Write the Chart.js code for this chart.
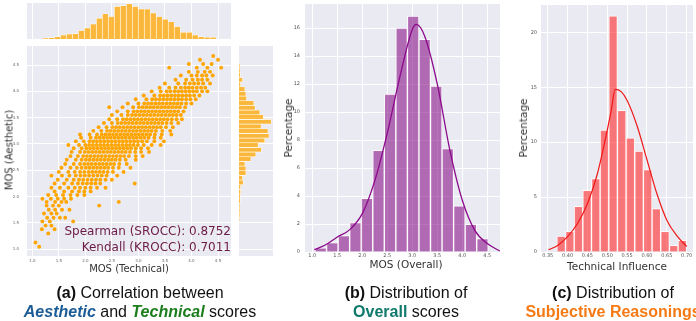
<!DOCTYPE html>
<html><head><meta charset="utf-8">
<script src="https://cdn.jsdelivr.net/npm/chart.js@4.4.1/dist/chart.umd.min.js"></script>
<style>
html,body{margin:0;padding:0;background:#fff;width:696px;height:321px;overflow:hidden;position:relative;}
canvas{position:absolute;}
.t{position:absolute;white-space:nowrap;font-family:"DejaVu Sans",sans-serif;color:#333;transform:translate(-50%,-50%);}
.r{transform:translate(-50%,-50%) rotate(-90deg);}
.cap{position:absolute;white-space:nowrap;font-family:"Liberation Sans",Arial,sans-serif;font-size:16px;line-height:18px;color:#111;transform:translateX(-50%);}
.ann{position:absolute;white-space:nowrap;font-family:"DejaVu Sans",sans-serif;font-size:12px;color:#6B1A45;transform:translate(-100%,-50%);}
</style></head><body>
<canvas id="cTop" width="236" height="42" style="left:0;top:0"></canvas>
<canvas id="cMain" width="236" height="228" style="left:0;top:40px"></canvas>
<canvas id="cRight" width="40" height="222" style="left:236px;top:40px"></canvas>
<canvas id="cB" width="236" height="262" style="left:270px;top:0"></canvas>
<canvas id="cC" width="196" height="262" style="left:500px;top:0"></canvas>

<div class="ann" style="left:231px;top:231px">Spearman (SROCC): 0.8752</div>
<div class="ann" style="left:231px;top:247px">Kendall (KROCC): 0.7011</div>

<div class="t r" style="left:9px;top:150px;font-size:10px">MOS (Aesthetic)</div>
<div class="t" style="left:129px;top:268px;font-size:10px">MOS (Technical)</div>
<div class="t r" style="left:288px;top:128px;font-size:10.5px">Percentage</div>
<div class="t" style="left:406px;top:264px;font-size:10.5px">MOS (Overall)</div>
<div class="t r" style="left:523px;top:128px;font-size:10.5px">Percentage</div>
<div class="t" style="left:617px;top:266px;font-size:10.5px">Technical Influence</div>

<div class="cap" style="left:140px;top:284px"><b>(a)</b> Correlation between</div>
<div class="cap" style="left:140px;top:302.5px"><b><i style="color:#1B5C96">Aesthetic</i></b> and <b><i style="color:#1C7D1C">Technical</i></b> scores</div>
<div class="cap" style="left:406px;top:284px"><b>(b)</b> Distribution of</div>
<div class="cap" style="left:406px;top:302.5px"><b style="color:#0F7A6C">Overall</b> scores</div>
<div class="cap" style="left:613px;top:284px"><b>(c)</b> Distribution of</div>
<div class="cap" style="left:613px;top:302.5px"><b style="color:#F57A14">Subjective Reasonings</b></div>

<script>
// ---------- (a) scatter: rows of MOS (Aesthetic) with MOS (Technical) values ----------
const scatterAes = [1.05,1.13,1.3,1.38,1.45,1.53,1.6,1.68,1.75,1.83,1.9,1.96,2.03,2.1,2.17,2.25,2.32,2.4,2.47,2.55,2.62,2.7,2.77,2.85,2.92,2.98,3.05,3.12,3.18,3.25,3.32,3.4,3.47,3.55,3.62,3.7,3.77,3.85,3.92,4.0,4.07,4.15,4.22,4.3,4.37,4.45,4.52,4.6,4.67];
const scatterTech = [
 [1.13],[1.06],[1.3],[1.18,1.42],[1.25,1.36],[1.19,1.33,1.77],[1.28,1.4,1.52,1.62],[1.22,1.36,1.46],
 [1.31,1.43,1.56,1.7],[1.27,1.39,1.5,2.26],[1.27,1.43,1.55,1.64,2.63],[1.19,1.35,1.48,1.6,1.73],
 [1.3,1.45,1.58,1.72,1.85,1.98],[1.42,1.6,1.75,1.88,1.98,2.1],
 [1.36,1.52,1.68,1.8,1.9,2.0,2.1,2.22,2.38],[1.42,1.6,1.75,1.86,1.95,2.03,2.11,2.19,2.28,2.93],
 [1.48,1.65,1.78,1.88,1.96,2.04,2.12,2.2,2.28,2.38,2.5],
 [1.36,1.56,1.7,1.82,1.91,1.99,2.07,2.15,2.23,2.31,2.4,2.6],
 [1.5,1.68,1.8,1.9,1.98,2.06,2.13,2.2,2.27,2.34,2.42,2.52,2.72],
 [1.55,1.72,1.84,1.93,2.01,2.08,2.15,2.22,2.29,2.36,2.43,2.52,2.63,2.85],
 [1.62,1.78,1.9,1.98,2.05,2.12,2.19,2.26,2.33,2.4,2.47,2.54,2.64,2.78],
 [1.65,1.82,1.93,2.01,2.08,2.15,2.22,2.29,2.36,2.43,2.5,2.57,2.65,2.76,2.95],
 [1.72,1.86,1.96,2.03,2.1,2.17,2.24,2.31,2.38,2.45,2.52,2.59,2.66,2.73,2.82,2.95,3.08],
 [1.74,1.9,1.99,2.06,2.13,2.2,2.27,2.34,2.41,2.48,2.55,2.62,2.69,2.76,2.84,2.94,3.05,3.2],
 [1.78,1.93,2.02,2.09,2.16,2.23,2.3,2.37,2.44,2.51,2.58,2.65,2.72,2.79,2.86,2.95,3.05,3.18],
 [1.68,1.88,2.0,2.07,2.14,2.21,2.28,2.35,2.42,2.49,2.56,2.63,2.7,2.77,2.84,2.91,2.99,3.1,3.25,3.42],
 [1.82,1.97,2.08,2.15,2.22,2.29,2.36,2.43,2.5,2.57,2.64,2.71,2.78,2.85,2.92,2.99,3.07,3.16,3.3,3.48],
 [1.92,2.1,2.2,2.27,2.34,2.41,2.48,2.55,2.62,2.69,2.76,2.83,2.9,2.97,3.04,3.11,3.19,3.3,3.42],
 [1.9,2.08,2.22,2.31,2.38,2.45,2.52,2.59,2.66,2.73,2.8,2.87,2.94,3.01,3.08,3.15,3.22,3.31,3.44,3.62],
 [2.15,2.3,2.41,2.48,2.55,2.62,2.69,2.76,2.83,2.9,2.97,3.04,3.11,3.18,3.25,3.33,3.45,3.6],
 [2.25,2.4,2.51,2.58,2.65,2.72,2.79,2.86,2.93,3.0,3.07,3.14,3.21,3.28,3.35,3.42,3.52,3.65],
 [2.35,2.5,2.61,2.68,2.75,2.82,2.89,2.96,3.03,3.1,3.17,3.24,3.31,3.38,3.45,3.53,3.62,3.75],
 [2.45,2.6,2.71,2.78,2.85,2.92,2.99,3.06,3.13,3.2,3.27,3.34,3.41,3.48,3.55,3.63,3.72,3.82],
 [2.5,2.68,2.8,2.88,2.95,3.02,3.09,3.16,3.23,3.3,3.37,3.44,3.51,3.58,3.65,3.72,3.8],
 [2.6,2.8,2.91,2.98,3.05,3.12,3.19,3.26,3.33,3.4,3.47,3.54,3.61,3.68,3.75,3.85],
 [2.45,2.7,2.9,3.01,3.08,3.15,3.22,3.29,3.36,3.43,3.5,3.57,3.64,3.71,3.78,3.88],
 [2.8,3.0,3.11,3.18,3.25,3.32,3.39,3.46,3.53,3.6,3.67,3.74,3.81,3.9,4.0],
 [2.95,3.15,3.26,3.33,3.4,3.47,3.54,3.61,3.68,3.75,3.82,3.9,3.98,4.08],
 [3.1,3.3,3.41,3.48,3.55,3.62,3.69,3.76,3.83,3.9,3.97,4.05,4.15],
 [3.25,3.42,3.53,3.6,3.68,3.75,3.82,3.89,3.96,4.03,4.1,4.2,4.3],
 [3.4,3.58,3.7,3.8,3.88,3.95,4.02,4.1,4.18,4.26],
 [3.5,3.75,3.88,3.97,4.05,4.13,4.22,4.35],
 [3.7,3.9,4.02,4.12,4.2,4.3],[3.8,4.0,4.1,4.2,4.28,4.4],[3.95,4.12,4.25,4.35],
 [3.58,4.1,4.3,4.56],[3.95,4.22,4.38],[4.16,4.5],[4.41]
];
const mosTicks = [1.0,1.5,2.0,2.5,3.0,3.5,4.0,4.5];
const mosTickLabels = ["1.0","1.5","2.0","2.5","3.0","3.5","4.0","4.5"];

// marginal histograms (relative heights)
const techBinStart = 1.19, techBinWidth = 0.113;
const techHist = [3,4,7,12,15,16,25,33,45,62,75,67,97,99,105,97,89,89,77,67,59,51,37,20,20,12,7,5,5];
const aesBinStart = 1.518, aesBinWidth = 0.0886;
const aesHist = [1,2,2,2,4,4,5,5,13,11,21,21,18,36,51,68,58,78,91,88,67,98,74,63,49,45,23,21,18,5,11,4,3,2];

// ---------- (b) Overall ----------
const overallBinStart = 1.054, overallBinWidth = 0.231;
const overallPct = [0.3,0.67,1.17,2.1,3.84,7.27,11.28,16.0,16.86,15.2,11.85,7.39,3.29,1.98,0.95];
const overallKdeX = [1.04,1.25,1.5,1.75,2.0,2.25,2.5,2.75,3.0,3.08,3.25,3.5,3.75,4.0,4.25,4.5,4.75];
const overallKdeY = [0.17,0.48,1.07,1.6,2.74,5.1,8.5,12.5,15.9,16.26,15.4,12.0,7.3,3.7,1.55,0.6,0.07];
const overallYTicks = [0,2,4,6,8,10,12,14,16];

// ---------- (c) Technical Influence ----------
const infBinStart = 0.373, infBinWidth = 0.0218;
const infPct = [1.46,1.88,4.16,5.62,6.69,11.1,21.5,12.9,10.4,9.18,7.5,3.95,1.88,0.6,1.06];
const infKdeX = [0.352,0.375,0.40,0.425,0.45,0.475,0.50,0.51,0.52,0.535,0.55,0.575,0.60,0.625,0.65,0.675,0.70];
const infKdeY = [0.2,0.6,1.4,2.6,4.4,7.1,11.1,12.9,14.8,14.6,13.8,11.5,8.4,5.3,2.9,1.5,0.5];
const infXTicks = [0.35,0.40,0.45,0.50,0.55,0.60,0.65,0.70];
const infXLabels = ["0.35","0.40","0.45","0.50","0.55","0.60","0.65","0.70"];
const infYTicks = [0,5,10,15,20];

// ---------- helpers ----------
const BG = '#EAEAF2';
const bgPlugin = {id:'bg', beforeDraw(c){const a=c.chartArea, x=c.ctx; x.save(); x.fillStyle=BG; x.fillRect(a.left,a.top,a.right-a.left,a.bottom-a.top); x.restore();}};
function fixed(size, horiz){return function(s){ if(horiz) s.height=size; else s.width=size; s.paddingTop=s.paddingBottom=s.paddingLeft=s.paddingRight=0; };}
function setTicks(vals){return function(s){ s.ticks = vals.map(v=>({value:v})); };}
const tickFont = (sz)=>({family:'DejaVu Sans', size:sz});
const grid = {color:'#ffffff', lineWidth:1, drawTicks:false, offset:false};
const common = {responsive:false, animation:false, events:[], plugins:{legend:{display:false}, tooltip:{enabled:false}}};
function hist(start,w,vals){return vals.map((v,i)=>({x:start+w*(i+0.5), y:v}));}

// scatter main
const pts = [];
scatterAes.forEach((y,i)=>scatterTech[i].forEach(x=>pts.push({x:x,y:y})));
new Chart(document.getElementById('cMain'), {
  type:'scatter',
  data:{datasets:[{data:pts, backgroundColor:'#FFA500', borderWidth:0, pointRadius:1.95}]},
  options:{...common, layout:{padding:{left:0,right:5,top:6,bottom:0}},
    scales:{
      x:{type:'linear', min:0.9, max:4.745, offset:false, grid:grid, border:{display:false},
         afterBuildTicks:setTicks(mosTicks), afterFit:fixed(12,true),
         ticks:{padding:3, font:tickFont(4), color:'#666', maxRotation:0, callback:(v,i)=>mosTickLabels[i]}},
      y:{type:'linear', min:0.873, max:4.861, grid:grid, border:{display:false},
         afterBuildTicks:setTicks(mosTicks), afterFit:fixed(27,false),
         ticks:{padding:8, font:tickFont(4), color:'#666', callback:(v,i)=>mosTickLabels[i]}}
    }},
  plugins:[bgPlugin]
});

// top marginal
new Chart(document.getElementById('cTop'), {
  type:'bar',
  data:{datasets:[{data:hist(techBinStart,techBinWidth,techHist), backgroundColor:'rgba(255,165,0,0.75)', borderColor:'rgba(255,255,255,0.9)', borderWidth:{left:0.6,right:0.6,top:0.6}, barPercentage:1, categoryPercentage:1}]},
  options:{...common, layout:{padding:{left:27,right:5,top:3,bottom:3}},
    scales:{
      x:{type:'linear', min:0.9, max:4.745, offset:false, grid:grid, border:{display:false},
         afterBuildTicks:setTicks(mosTicks), afterFit:fixed(0,true), ticks:{display:false}},
      y:{type:'linear', min:0, max:107, grid:{display:false}, border:{display:false},
         afterFit:fixed(0,false), ticks:{display:false}}
    }},
  plugins:[bgPlugin]
});

// right marginal
new Chart(document.getElementById('cRight'), {
  type:'bar',
  data:{datasets:[{data:aesHist.map((v,i)=>({y:aesBinStart+aesBinWidth*(i+0.5), x:v})), backgroundColor:'rgba(255,165,0,0.75)', borderColor:'rgba(255,255,255,0.9)', borderWidth:{top:0.6,bottom:0.6,right:0.6}, barPercentage:1, categoryPercentage:1}]},
  options:{...common, indexAxis:'y', layout:{padding:{left:3,right:3,top:6,bottom:6}},
    scales:{
      y:{type:'linear', min:0.873, max:4.861, offset:false, grid:grid, border:{display:false},
         afterBuildTicks:setTicks(mosTicks), afterFit:fixed(0,false), ticks:{display:false}},
      x:{type:'linear', min:0, max:103, grid:{display:false}, border:{display:false},
         afterFit:fixed(0,true), ticks:{display:false}}
    }},
  plugins:[bgPlugin]
});

// (b)
new Chart(document.getElementById('cB'), {
  type:'bar',
  data:{datasets:[
    {type:'line', data:overallKdeX.map((x,i)=>({x:x,y:overallKdeY[i]})), borderColor:'#8B0A8B', borderWidth:1.3, pointRadius:0, cubicInterpolationMode:'monotone', order:0},
    {data:hist(overallBinStart,overallBinWidth,overallPct), backgroundColor:'rgba(128,0,128,0.55)', borderColor:'rgba(255,255,255,0.85)', borderWidth:{left:1,right:1,top:1}, barPercentage:1, categoryPercentage:1, order:1}
  ]},
  options:{...common, layout:{padding:{left:0,right:6,top:4,bottom:0}},
    scales:{
      x:{type:'linear', min:0.854, max:4.754, offset:false, grid:grid, border:{display:false},
         afterBuildTicks:setTicks(mosTicks), afterFit:fixed(10,true),
         ticks:{padding:1, font:tickFont(5), color:'#555', maxRotation:0, callback:(v,i)=>mosTickLabels[i]}},
      y:{type:'linear', min:0, max:17.72, grid:grid, border:{display:false},
         afterBuildTicks:setTicks(overallYTicks), afterFit:fixed(35,false),
         ticks:{padding:5, font:tickFont(5), color:'#555', callback:(v)=>String(v)}}
    }},
  plugins:[bgPlugin]
});

// (c)
new Chart(document.getElementById('cC'), {
  type:'bar',
  data:{datasets:[
    {type:'line', data:infKdeX.map((x,i)=>({x:x,y:infKdeY[i]})), borderColor:'#F01818', borderWidth:1.2, pointRadius:0, cubicInterpolationMode:'monotone', order:0},
    {data:hist(infBinStart,infBinWidth,infPct), backgroundColor:'rgba(255,0,0,0.5)', borderColor:'rgba(255,255,255,0.85)', borderWidth:{left:1,right:1,top:1}, barPercentage:1, categoryPercentage:1, order:1}
  ]},
  options:{...common, layout:{padding:{left:0,right:3,top:5,bottom:0}},
    scales:{
      x:{type:'linear', min:0.3331, max:0.7159, offset:false, grid:grid, border:{display:false},
         afterBuildTicks:setTicks(infXTicks), afterFit:fixed(10,true),
         ticks:{padding:1, font:tickFont(5), color:'#555', maxRotation:0, callback:(v,i)=>infXLabels[i]}},
      y:{type:'linear', min:0, max:22.49, grid:grid, border:{display:false},
         afterBuildTicks:setTicks(infYTicks), afterFit:fixed(41,false),
         ticks:{padding:4, font:tickFont(5), color:'#555', callback:(v)=>String(v)}}
    }},
  plugins:[bgPlugin]
});
</script>
</body></html>
